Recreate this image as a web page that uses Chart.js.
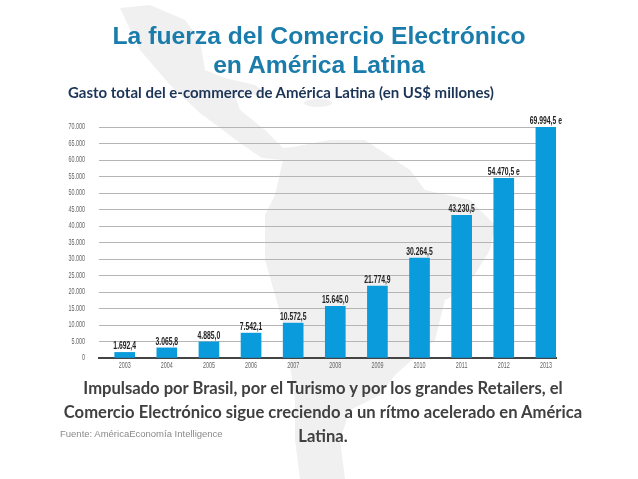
<!DOCTYPE html>
<html lang="es">
<head>
<meta charset="utf-8">
<title>La fuerza del Comercio Electrónico</title>
<script src="https://cdn.jsdelivr.net/npm/chart.js@4"></script>
<style>
  html, body { margin: 0; padding: 0; background: #fff; overflow: hidden; }
  #lamina { position: relative; width: 638px; height: 479px; overflow: hidden; }
  #mapa, #grafico { position: absolute; left: 0; top: 0; }
  h1 { position: absolute; left: 0; top: 21px; width: 638px; margin: 0; text-align: center;
       font: bold 24.7px/29px "Liberation Sans", sans-serif; color: #1a7cab; }
  h2 { position: absolute; left: 68px; top: 83px; margin: 0; white-space: nowrap;
       font: bold 15px/18px Lato, sans-serif; color: #1c3557; }
  p { position: absolute; margin: 0; }
  #nota { left: 54px; top: 376px; width: 538px; text-align: center;
          font: bold 16.6px/24px Lato, sans-serif; color: #404040; }
  #fuente { left: 60px; top: 428px; font: 9.5px/12px "Liberation Sans", sans-serif; color: #8a8a8a; }
</style>
</head>
<body>
<div id="lamina">
  <svg id="mapa" width="638" height="479">
    <g fill="#f0f0f0">
      <polygon points="120,8 150,5 185,20 200,40 205,70 225,78 255,85 270,95 235,95 240,110 265,130 283,148 293,147 330,140 365,140 410,170 425,190 470,200 495,225 490,250 465,290 445,300 435,340 395,375 380,395 350,410 340,440 345,479 300,479 295,440 295,400 285,330 265,260 265,215 275,195 283,160 262,158 240,143 200,113 170,85 140,50"/>
      <ellipse cx="318" cy="103" rx="14" ry="4"/>
    </g>
  </svg>
  <canvas id="grafico" width="638" height="479"></canvas>
  <h1>La fuerza del Comercio Electrónico<br>en América Latina</h1>
  <h2>Gasto total del e-commerce de América Latina (en US$ millones)</h2>
  <p id="nota">Impulsado por Brasil, por el Turismo y por los grandes Retailers, el<br>Comercio Electrónico sigue creciendo a un rítmo acelerado en América<br>Latina.</p>
  <p id="fuente">Fuente: AméricaEconomía Intelligence</p>
</div>
<script>
let anios = [2003, 2004, 2005, 2006, 2007, 2008, 2009, 2010, 2011, 2012, 2013];
let gasto = [1692.4, 3065.8, 4885.0, 7542.1, 10572.5, 15645.0, 21774.9, 30264.5, 43230.5, 54470.5, 69994.5];
let etiquetas = ['1.692,4', '3.065,8', '4.885,0', '7.542,1', '10.572,5', '15.645,0', '21.774,9', '30.264,5', '43.230,5', '54.470,5 e', '69.994,5 e'];
let marcasY = [0, 5000, 10000, 15000, 20000, 25000, 30000, 35000, 40000, 45000, 50000, 55000, 60000, 65000, 70000];
let textosY = ['0', '5.000', '10.000', '15.000', '20.000', '25.000', '30.000', '35.000', '40.000', '45.000', '50.000', '55.000', '60.000', '65.000', '70.000'];

// No hay fuente condensada instalada, asi que se angosta el texto a mano
let textoAngosto = (ctx, texto, x, y, factor) => {
  ctx.save();
  ctx.translate(x, y);
  ctx.scale(factor, 1);
  ctx.fillText(texto, 0, 0);
  ctx.restore();
};

let rotulos = {
  id: 'rotulos',
  afterDatasetsDraw: (chart) => {
    let ctx = chart.ctx;
    ctx.save();

    // Valor encima de cada barra
    ctx.font = 'bold 10px "Liberation Sans", sans-serif';
    ctx.fillStyle = '#222';
    ctx.textAlign = 'center';
    ctx.textBaseline = 'bottom';
    chart.getDatasetMeta(0).data.forEach((barra, i) => {
      textoAngosto(ctx, etiquetas[i], barra.x, barra.y - 1, 0.68);
    });

    // Marcas de los ejes
    ctx.font = '9px "Liberation Sans", sans-serif';
    ctx.fillStyle = '#666';
    ctx.textBaseline = 'middle';
    anios.forEach((anio) => {
      textoAngosto(ctx, String(anio), chart.scales.x.getPixelForValue(anio), chart.chartArea.bottom + 8, 0.6);
    });
    ctx.textAlign = 'right';
    marcasY.forEach((marca, i) => {
      textoAngosto(ctx, textosY[i], 85, chart.scales.y.getPixelForValue(marca), 0.6);
    });

    ctx.restore();
  }
};

let plotRef = document.getElementById('grafico');

new Chart(plotRef, {
  type: 'bar',
  data: {
    datasets: [{
      data: anios.map((anio, i) => ({ x: anio, y: gasto[i] })),
      backgroundColor: '#0a9bdc',
      barThickness: 20
    }]
  },
  options: {
    responsive: false,
    animation: false,
    layout: { padding: { left: 0, top: 127, right: 82, bottom: 100 } },
    plugins: { legend: { display: false }, tooltip: { enabled: false } },
    scales: {
      x: {
        type: 'linear',
        offset: false,
        min: 2002.39,
        max: 2013.24,
        afterFit: (escala) => { escala.height = 21; },
        grid: { display: false },
        border: { color: '#444', width: 2 },
        ticks: { display: false }
      },
      y: {
        min: 0,
        max: 70000,
        afterFit: (escala) => { escala.width = 99; },
        border: { display: false },
        grid: { color: '#b5b5b5', lineWidth: 1, drawTicks: false },
        ticks: { display: false, stepSize: 5000 }
      }
    }
  },
  plugins: [rotulos]
});
</script>
</body>
</html>
